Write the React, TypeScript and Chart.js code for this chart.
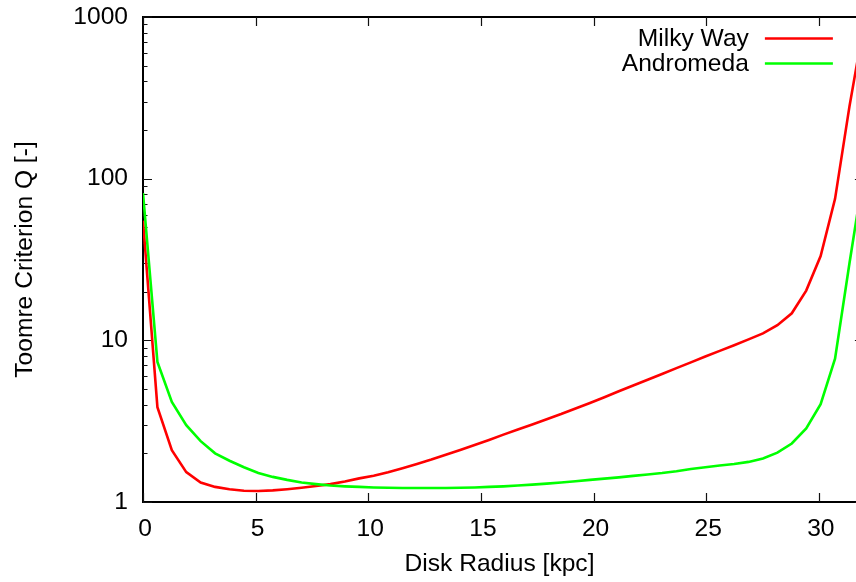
import React, { useEffect, useRef } from "react";
import { Chart, registerables } from "chart.js";

Chart.register(...registerables);

// Disk radius samples [kpc]
const radius = [
  0, 0.64, 1.28, 1.92, 2.56, 3.2, 3.84, 4.48, 5.12, 5.76, 6.4, 7.04, 7.68, 8.32, 8.96, 9.6,
  10.24, 10.88, 11.52, 12.16, 12.8, 13.44, 14.08, 14.72, 15.36, 16, 16.64, 17.28, 17.92,
  18.56, 19.2, 19.84, 20.48, 21.12, 21.76, 22.4, 23.04, 23.68, 24.32, 24.96, 25.6, 26.24,
  26.88, 27.52, 28.16, 28.8, 29.44, 30.08, 30.72, 31.36, 32,
];

// Toomre Q — Milky Way
const milkyWay = [
  55, 3.86, 2.09, 1.53, 1.32, 1.24, 1.2, 1.175, 1.17, 1.18, 1.2, 1.225, 1.255, 1.29, 1.34,
  1.4, 1.455, 1.53, 1.62, 1.72, 1.83, 1.96, 2.1, 2.25, 2.42, 2.61, 2.81, 3.02, 3.25, 3.5,
  3.79, 4.1, 4.45, 4.84, 5.25, 5.7, 6.19, 6.73, 7.31, 7.94, 8.61, 9.33, 10.14, 11.04, 12.4,
  14.7, 20.3, 33.2, 75, 280, 900,
];

// Toomre Q — Andromeda
const andromeda = [
  81.5, 7.36, 4.16, 2.99, 2.38, 2.0, 1.8, 1.64, 1.51, 1.43, 1.37, 1.32, 1.29, 1.265, 1.25,
  1.24, 1.23, 1.225, 1.22, 1.22, 1.22, 1.22, 1.225, 1.23, 1.24, 1.25, 1.265, 1.28, 1.3, 1.32,
  1.345, 1.37, 1.395, 1.42, 1.45, 1.48, 1.51, 1.55, 1.6, 1.64, 1.68, 1.72, 1.77, 1.86, 2.02,
  2.3, 2.85, 4.03, 7.7, 30, 110,
];

const seriesNames = ["Milky Way", "Andromeda"];
const seriesColors = ["#ff0000", "#00ff00"];
const xTicks = [0, 5, 10, 15, 20, 25, 30];
const yTicks = [1, 10, 100, 1000];
const xTitle = "Disk Radius [kpc]";
const yTitle = "Toomre Criterion Q [-]";
const X_MIN = 0;
const X_VIEW_MAX = 31.65; // visible part of the frame
const X_FRAME_MAX = 32; // full frame (right edge cropped)

const FONT = "'Liberation Sans', Arial, Helvetica, sans-serif";
const FS = 24.6;

const framePlugin = {
  id: "gnuFrame",
  beforeDatasetsDraw(chart: any) {
    const { ctx, chartArea: a, scales } = chart;
    const xs = scales.x;
    const ys = scales.y;
    const right = xs.getPixelForValue(X_FRAME_MAX);
    ctx.save();
    ctx.strokeStyle = "#000";
    ctx.lineWidth = 2;
    ctx.beginPath();
    ctx.moveTo(right, a.top);
    ctx.lineTo(a.left, a.top);
    ctx.lineTo(a.left, a.bottom);
    ctx.lineTo(right, a.bottom);
    ctx.lineTo(right, a.top);
    ctx.stroke();

    ctx.lineWidth = 1.2;
    ctx.strokeStyle = "#111";
    ctx.beginPath();
    for (const v of xTicks) {
      const px = Math.round(xs.getPixelForValue(v)) + 0.5;
      ctx.moveTo(px, a.bottom);
      ctx.lineTo(px, a.bottom - 9);
      ctx.moveTo(px, a.top);
      ctx.lineTo(px, a.top + 9);
    }
    for (let d = 0; d < 3; d++) {
      for (let m = 1; m <= 9; m++) {
        const v = m * Math.pow(10, d);
        const py = Math.round(ys.getPixelForValue(v)) + 0.5;
        const len = m === 1 ? 9 : 4.5;
        ctx.moveTo(a.left, py);
        ctx.lineTo(a.left + len, py);
        ctx.moveTo(right, py);
        ctx.lineTo(right - len, py);
      }
    }
    const pTop = ys.getPixelForValue(1000);
    ctx.moveTo(a.left, pTop);
    ctx.lineTo(a.left + 9, pTop);
    ctx.stroke();
    ctx.restore();
  },
  afterDraw(chart: any) {
    const { ctx, scales } = chart;
    const right = scales.x.getPixelForValue(X_FRAME_MAX);
    ctx.save();
    ctx.font = `${FS}px ${FONT}`;
    ctx.textAlign = "right";
    ctx.textBaseline = "middle";
    seriesNames.forEach((name, i) => {
      const y = 38.5 + i * 25;
      ctx.fillStyle = "#000";
      ctx.fillText(name, right - 115, y + 1);
      ctx.strokeStyle = seriesColors[i];
      ctx.lineWidth = 2.5;
      ctx.beginPath();
      ctx.moveTo(right - 99, y);
      ctx.lineTo(right - 31, y);
      ctx.stroke();
    });
    ctx.restore();
  },
};

export default function App() {
  const ref = useRef<HTMLCanvasElement | null>(null);

  useEffect(() => {
    if (!ref.current) return;
    const chart = new Chart(ref.current, {
      type: "line",
      data: {
        datasets: [
          {
            label: seriesNames[0],
            data: radius.map((r, i) => ({ x: r, y: milkyWay[i] })),
            borderColor: seriesColors[0],
            borderWidth: 2.6,
            pointRadius: 0,
            tension: 0,
            fill: false,
            order: 1,
          },
          {
            label: seriesNames[1],
            data: radius.map((r, i) => ({ x: r, y: andromeda[i] })),
            borderColor: seriesColors[1],
            borderWidth: 2.6,
            pointRadius: 0,
            tension: 0,
            fill: false,
            order: 0,
          },
        ],
      },
      options: {
        responsive: false,
        animation: false,
        devicePixelRatio: 1,
        layout: { padding: { top: 17, left: 0, right: 0, bottom: 0 } },
        plugins: {
          legend: { display: false },
          tooltip: { enabled: false },
        },
        scales: {
          x: {
            type: "linear",
            min: X_MIN,
            max: X_VIEW_MAX,
            grid: { display: false, drawTicks: false },
            border: { display: false },
            afterBuildTicks: (s: any) => {
              s.ticks = xTicks.map((v) => ({ value: v }));
            },
            afterFit: (s: any) => {
              s.height = 80;
              s.paddingLeft = 0;
              s.paddingRight = 0;
            },
            ticks: {
              padding: 12,
              labelOffset: 2,
              maxRotation: 0,
              color: "#000",
              font: { family: FONT, size: FS },
              callback: (v: any) => String(v),
            },
            title: {
              display: true,
              text: xTitle,
              color: "#000",
              font: { family: FONT, size: FS },
              padding: { top: 0, bottom: 3 },
            },
          },
          y: {
            type: "logarithmic",
            min: 1,
            max: 1000,
            grid: { display: false, drawTicks: false },
            border: { display: false },
            afterBuildTicks: (s: any) => {
              s.ticks = yTicks.map((v) => ({ value: v }));
            },
            afterFit: (s: any) => {
              s.width = 143;
              s.paddingTop = 0;
              s.paddingBottom = 0;
            },
            ticks: {
              padding: 15,
              color: "#000",
              font: { family: FONT, size: FS },
              callback: (v: any) => String(v),
            },
            title: {
              display: true,
              text: yTitle,
              color: "#000",
              font: { family: FONT, size: FS },
              padding: { top: 10, bottom: 0 },
            },
          },
        },
      },
      plugins: [framePlugin],
    } as any);
    return () => chart.destroy();
  }, []);

  return (
    <div style={{ position: "fixed", left: 0, top: 0, width: 856, height: 582, background: "#fff" }}>
      <canvas ref={ref} width={856} height={582} style={{ display: "block" }} />
    </div>
  );
}
